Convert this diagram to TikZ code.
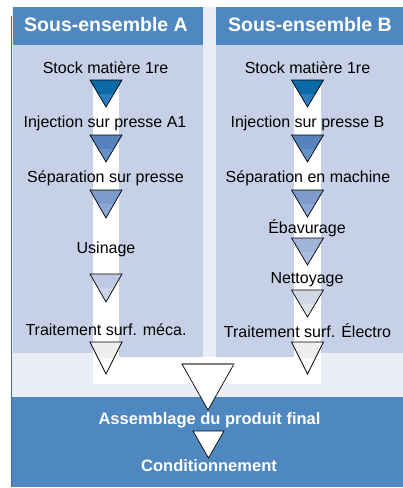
\documentclass[tikz,border=0pt]{standalone}
\usepackage{fontspec}
\setmainfont{Liberation Sans}
\definecolor{hdr}{HTML}{4F88C0}
\definecolor{panel}{HTML}{C6D1E7}
\definecolor{bgl}{HTML}{E9EDF6}
\definecolor{edgeblue}{HTML}{3A6EA8}
\definecolor{ta}{HTML}{0B6BA6}\definecolor{tb}{HTML}{2C7BBE}
\definecolor{tc}{HTML}{5882BC}\definecolor{td}{HTML}{6591C9}
\definecolor{te}{HTML}{7C9BCB}\definecolor{tf}{HTML}{8BA9D7}
\definecolor{tg}{HTML}{BFC9E3}\definecolor{th}{HTML}{CBD3EA}
\definecolor{ti}{HTML}{A0B4D8}\definecolor{tj}{HTML}{AABDDE}
\definecolor{tk}{HTML}{D2D7E6}\definecolor{tl}{HTML}{DDE1ED}
\definecolor{tm}{HTML}{EEEEEE}\definecolor{tn}{HTML}{FBFBFB}
\newcommand\vtri[6]{%
  \begin{scope}
    \clip (#1-#4,#2) -- (#1+#4,#2) -- (#1,#3) -- cycle;
    \fill[#6] (#1-#4,#2) rectangle (#1+#4,#3);
    \fill[#5] (#1-#4,#2) rectangle (#1+#4,{(#2+#3)/2});
  \end{scope}
  \draw[triline] (#1-#4,#2) -- (#1+#4,#2) -- (#1,#3) -- cycle;
}
\begin{document}
\begin{tikzpicture}[x=1pt,y=-1pt,
  triline/.style={draw=black, line width=0.7pt, line join=miter},
  head/.style={text=white, font=\fontsize{19.5}{22}\selectfont\bfseries, inner sep=0pt},
  lbl/.style={text=black, font=\fontsize{16}{18}\selectfont, inner sep=0pt},
  fin/.style={text=white, font=\fontsize{16.5}{19}\selectfont\bfseries, inner sep=0pt}]
\useasboundingbox (0,0) rectangle (403,488);
% backgrounds
\fill[bgl] (12,7) rectangle (403,487);
\fill[hdr] (13,7) rectangle (203,45);
\fill[panel] (13,45) rectangle (203,353);
\fill[hdr] (216,7) rectangle (403,45);
\fill[panel] (216,45) rectangle (403,353);
\fill[panel] (119,353) rectangle (203,357);
\fill[panel] (216,353) rectangle (294,357);
% white flow band
\fill[white] (93,84) rectangle (119,384);
\fill[white] (294,84) rectangle (321,384);
\fill[white] (93,357) rectangle (321,384);
% bottom band
\fill[hdr] (12,397) rectangle (403,487);
\draw[edgeblue, line width=1.3pt] (11.6,16) -- (11.6,487);
% headers
\node[head] (hA) at (106,25) {Sous-ensemble A};
\node[head] (hB) at (310,25) {Sous-ensemble B};
% column A labels
\node[lbl] (a1) at (105.5,68) {Stock matière 1re};
\node[lbl] (a2) at (105,123) {Injection sur presse A1};
\node[lbl] (a3) at (105.5,178) {Séparation sur presse};
\node[lbl] (a4) at (106,249) {Usinage};
\node[lbl] (a5) at (106,330) {Traitement surf. méca.};
% column B labels
\node[lbl] (b1) at (307.5,68) {Stock matière 1re};
\node[lbl] (b2) at (307.5,123) {Injection sur presse B};
\node[lbl] (b3) at (308,178) {Séparation en machine};
\node[lbl] (b4) at (307,228) {Ébavurage};
\node[lbl] (b5) at (307,280) {Nettoyage};
\node[lbl] (b6) at (307.5,331) {Traitement surf. Électro};
% final labels
\node[fin] (f1) at (209.5,420) {Assemblage du produit final};
\node[fin] (f2) at (209,466) {Conditionnement};
% triangles column A
\vtri{106}{80}{107}{16}{ta}{tb}
\vtri{106}{135}{162}{16}{tc}{td}
\vtri{106}{190}{218}{16}{te}{tf}
\vtri{106}{274}{302}{16}{tg}{th}
\vtri{106}{342}{374}{16}{tm}{tn}
% triangles column B
\vtri{307.5}{80}{107}{16}{ta}{tb}
\vtri{307.5}{135}{162}{16}{tc}{td}
\vtri{307.5}{190}{217}{16}{te}{tf}
\vtri{307.5}{238}{265}{16}{ti}{tj}
\vtri{307.5}{290}{317}{16}{tk}{tl}
\vtri{307.5}{342}{374}{16}{tm}{tn}
% merge and final triangles
\vtri{208}{364}{410}{26}{white}{white}
\draw[gray, line width=1.2pt] (182.5,364) -- (233.5,364);
\vtri{208.5}{431}{458}{15.5}{white}{white}
\end{tikzpicture}
\end{document}
